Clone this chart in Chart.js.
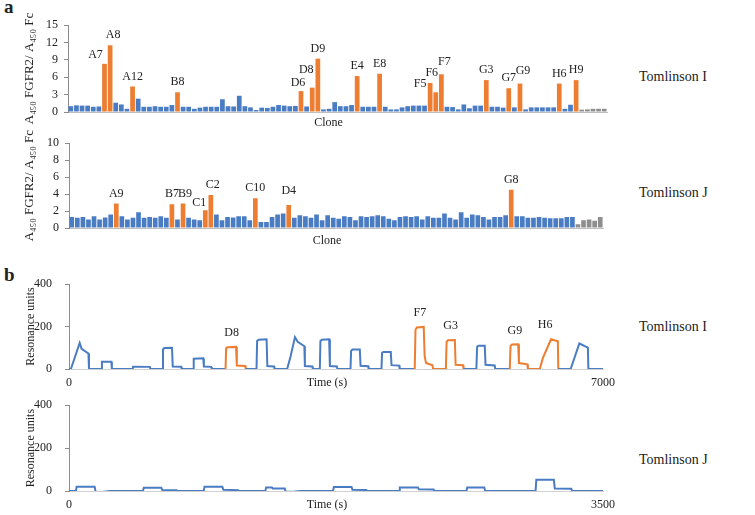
<!DOCTYPE html>
<html lang="en">
<head>
<meta charset="UTF-8">
<title>Tomlinson I / J clones</title>
<script src="https://cdn.jsdelivr.net/npm/chart.js"></script>
<style>
  body { margin: 0; background: #fff; color: #222; }
  #wrap { position: relative; width: 755px; height: 515px; overflow: hidden; font-family: "Liberation Serif", "DejaVu Serif", serif; }
  canvas { position: absolute; }
  .panel { position: absolute; font-weight: bold; font-size: 19px; font-family: "Liberation Serif", serif; }
  .lib { position: absolute; font-size: 14px; white-space: nowrap; font-family: "Liberation Serif", serif; }
</style>
</head>
<body>
<div id="wrap">
  <div class="panel" style="left:4px;top:-4px">a</div>
  <div class="panel" style="left:4px;top:264px">b</div>
  <div class="lib" style="left:639px;top:69px">Tomlinson I</div>
  <div class="lib" style="left:639px;top:185px">Tomlinson J</div>
  <div class="lib" style="left:639px;top:319px">Tomlinson I</div>
  <div class="lib" style="left:639px;top:452px">Tomlinson J</div>
  <canvas id="barI" width="625" height="140" style="left:0;top:0"></canvas>
  <canvas id="barJ" width="625" height="125" style="left:0;top:130px"></canvas>
  <canvas id="spr1" width="640" height="130" style="left:0;top:260px"></canvas>
  <canvas id="spr2" width="640" height="130" style="left:0;top:385px"></canvas>
</div>
<script>
// ---- data ----
const clones = [];
for (const r of 'ABCDEFGH') for (let c = 1; c <= 12; c++) clones.push(r + c);

// ELISA ratio, Tomlinson I library
const ratioI = [1.0, 1.15, 1.1, 1.1, 0.9, 0.95, 8.3, 11.5, 1.6, 1.3, 0.55, 4.4,
  2.3, 0.9, 0.9, 1.0, 0.9, 0.9, 1.2, 3.4, 0.9, 0.9, 0.55, 0.75,
  0.9, 0.9, 0.9, 2.2, 1.0, 0.95, 2.8, 1.0, 0.8, 0.35, 0.75, 0.7,
  0.9, 1.2, 1.1, 1.0, 1.05, 3.6, 0.95, 4.2, 9.2, 0.45, 0.55, 1.7,
  1.0, 1.0, 1.2, 6.2, 0.9, 0.9, 0.9, 6.6, 0.9, 0.45, 0.45, 0.8,
  1.0, 1.1, 1.1, 1.1, 5.0, 3.4, 6.5, 0.9, 0.85, 0.45, 1.3, 0.65,
  1.1, 1.1, 5.5, 0.9, 0.9, 0.75, 4.1, 0.8, 4.9, 0.45, 0.8, 0.8,
  0.8, 0.8, 0.8, 4.9, 0.55, 1.25, 5.5, 0.4, 0.45, 0.55, 0.55, 0.55];
const hitIdxI = [6, 7, 11, 19, 41, 43, 44, 51, 55, 64, 65, 66, 74, 78, 80, 87, 90];
const hitNameI = ['A7', 'A8', 'A12', 'B8', 'D6', 'D8', 'D9', 'E4', 'E8', 'F5', 'F6', 'F7', 'G3', 'G7', 'G9', 'H6', 'H9'];

// ELISA ratio, Tomlinson J library
const ratioJ = [1.3, 1.2, 1.3, 1.0, 1.4, 1.0, 1.25, 1.6, 2.9, 1.4, 1.0, 1.2,
  1.85, 1.2, 1.3, 1.2, 1.4, 1.2, 2.8, 1.0, 2.9, 1.2, 1.0, 0.9,
  2.1, 3.9, 1.6, 0.9, 1.3, 1.25, 1.4, 1.4, 0.9, 3.5, 0.7, 0.7,
  1.3, 1.6, 1.7, 2.7, 1.2, 1.5, 1.4, 1.2, 1.6, 0.9, 1.5, 1.2,
  1.1, 1.4, 1.3, 0.9, 1.4, 1.3, 1.4, 1.5, 1.4, 1.1, 0.9, 1.3,
  1.4, 1.3, 1.4, 1.0, 1.4, 1.2, 1.2, 1.7, 1.2, 1.0, 1.85, 1.2,
  1.6, 1.5, 1.3, 1.0, 1.3, 1.3, 1.5, 4.5, 1.4, 1.4, 1.2, 1.2,
  1.3, 1.2, 1.15, 1.15, 1.15, 1.3, 1.3, 0.45, 0.9, 1.0, 0.85, 1.3];
const hitIdxJ = [8, 18, 20, 24, 25, 33, 39, 79];
const hitNameJ = ['A9', 'B7', 'B9', 'C1', 'C2', 'C10', 'D4', 'G8'];

const controlIdx = [91, 92, 93, 94, 95];

// SPR sensorgram, Tomlinson I (time s, RU)
const timeI = [0, 25, 140, 165, 255, 262, 425, 432, 555, 562, 835, 840, 1060, 1066,
  1225, 1232, 1250, 1350, 1360, 1470, 1477, 1628, 1635, 1760, 1768, 1865, 1872,
  2052, 2060, 2080, 2190, 2200, 2310, 2316, 2458, 2466, 2486, 2590, 2600, 2688, 2694,
  2860, 2905, 2962, 2998, 3085, 3092, 3190, 3196, 3288, 3296, 3316, 3410, 3420, 3512, 3518,
  3690, 3698, 3716, 3812, 3822, 3922, 3928, 4096, 4104, 4120, 4218, 4228, 4328, 4334,
  4532, 4542, 4560, 4650, 4662, 4680, 4765, 4772, 4940, 4950, 4968, 5058, 5068, 5165, 5172,
  5340, 5350, 5366, 5450, 5460, 5580, 5588, 5778, 5788, 5806, 5888, 5898, 6008, 6015,
  6172, 6210, 6319, 6408, 6414, 6576, 6690, 6802, 6808, 7000];
const ruI = [0, 0, 123, 95, 73, 0, 0, 34, 34, 0, 0, 11, 10, 0,
  0, 92, 99, 100, 12, 11, 0, 0, 48, 50, 12, 10, 0,
  0, 98, 102, 104, 16, 14, 0, 0, 132, 138, 140, 14, 12, 0,
  0, 60, 150, 128, 107, 14, 12, 0, 0, 132, 138, 140, 14, 12, 0,
  0, 85, 92, 92, 15, 13, 0, 0, 76, 80, 80, 18, 16, 0,
  0, 185, 195, 198, 60, 28, 18, 0, 0, 128, 135, 136, 20, 18, 0,
  0, 105, 110, 110, 20, 17, 0, 0, 108, 115, 116, 28, 22, 0,
  0, 50, 140, 131, 0, 0, 120, 101, 0, 0];
// highlighted injections: [start, end, clone]
const hitRunI = [[2050, 2318, 'D8'], [4530, 4774, 'F7'], [4938, 5174, 'G3'], [5776, 6017, 'G9'], [6170, 6416, 'H6']];

// SPR sensorgram, Tomlinson J
const timeJ = [0, 45, 50, 168, 175, 200, 268, 485, 490, 605, 612, 705, 710,
  883, 888, 1005, 1012, 1108, 1114, 1287, 1292, 1330, 1335, 1414, 1420, 1480, 1520,
  1730, 1736, 1852, 1858, 1948, 1954, 2163, 2168, 2287, 2293, 2390, 2396,
  2605, 2610, 2722, 2728, 3058, 3063, 3178, 3184, 3292, 3298, 3500];
const ruJ = [0, 0, 20, 20, -5, -6, 0, 0, 15, 15, 4, 3, 0,
  0, 20, 20, 6, 4, 0, 0, 16, 16, 12, 12, -4, -2, 0,
  0, 19, 19, 6, 5, 0, 0, 16, 16, 8, 7, 0,
  0, 16, 16, 0, 0, 52, 52, 12, 11, 0, 0];

// ---- styles ----
const BLUE = '#4A7CC4';
const ORANGE = '#ED7D31';
const GREY = '#8E8E8E';
const FONT = 'Liberation Serif';
const labelNudge = {
  A7: [-9, 1], A8: [3, 0], D6: [-3, 2], D8: [-6, -8], F5: [-10, 11], F6: [-4, -9],
  F7: [3, -2], G9: [3, -3], B9: [2, 0], C1: [-6, 3], C2: [2, 0], D4: [0, -4]
};
// axis titles sit a little left of the axis middle in the original
const shiftLeft = '\u2002\u2002\u2002';

function barColors(hits) {
  return clones.map((c, i) => hits.includes(i) ? ORANGE : controlIdx.includes(i) ? GREY : BLUE);
}

function hitLabelPlugin(idx, names) {
  return {
    id: 'hitLabels',
    afterDatasetsDraw(chart) {
      const meta = chart.getDatasetMeta(0);
      const ctx = chart.ctx;
      ctx.save();
      ctx.font = '12px "' + FONT + '"';
      ctx.fillStyle = '#222';
      ctx.textAlign = 'center';
      ctx.textBaseline = 'middle';
      idx.forEach((i, k) => {
        const bar = meta.data[i];
        const n = labelNudge[names[k]] || [0, 0];
        ctx.fillText(names[k], bar.x + n[0], bar.y - 10 + n[1]);
      });
      ctx.restore();
    }
  };
}

function runLabelPlugin(runs, times, vals) {
  return {
    id: 'runLabels',
    afterDatasetsDraw(chart) {
      const xs = chart.scales.x, ys = chart.scales.y, ctx = chart.ctx;
      ctx.save();
      ctx.font = '12px "' + FONT + '"';
      ctx.fillStyle = '#222';
      ctx.textAlign = 'center';
      ctx.textBaseline = 'middle';
      runs.forEach(r => {
        let peak = 0;
        times.forEach((t, i) => { if (t >= r[0] && t <= r[1]) peak = Math.max(peak, vals[i]); });
        ctx.fillText(r[2], xs.getPixelForValue((r[0] + r[1]) / 2) - 4, ys.getPixelForValue(peak) - 14);
      });
      ctx.restore();
    }
  };
}

const yTitleBar = 'A\u2084\u2085\u2080 FGFR2/ A\u2084\u2085\u2080 Fc';

function barChart(id, values, hits, names, yMax, step, pad, yW, xH, titlePadB) {
  new Chart(document.getElementById(id), {
    type: 'bar',
    data: {
      labels: clones,
      datasets: [{ data: values, backgroundColor: barColors(hits), barPercentage: 0.84, categoryPercentage: 1 }]
    },
    options: {
      responsive: false,
      animation: false,
      layout: { padding: pad },
      plugins: { legend: { display: false }, tooltip: { enabled: false } },
      scales: {
        x: {
          grid: { display: false, drawTicks: false },
          border: { color: '#BFBFBF' },
          ticks: { display: false },
          title: { display: true, text: 'Clone' + shiftLeft, color: '#222', font: { family: FONT, size: 12 }, padding: { top: 0, bottom: titlePadB } },
          afterFit: s => { s.height = xH; }
        },
        y: {
          min: 0, max: yMax,
          grid: { drawOnChartArea: false, tickLength: 4, color: '#8C8C8C' },
          border: { color: '#8C8C8C' },
          ticks: { stepSize: step, autoSkip: false, padding: 6, color: '#222', font: { family: FONT, size: 12 } },
          title: { display: true, text: yTitleBar, color: '#222', font: { family: FONT, size: 13 }, padding: { top: 22, bottom: 0 } },
          afterFit: s => { s.width = yW; }
        }
      }
    },
    plugins: [hitLabelPlugin(hits, names)]
  });
}

function sprChart(id, times, vals, runs, xMax, pad, xH, tickPad, titlePadB) {
  const inRun = t => runs.some(r => t >= r[0] && t <= r[1]);
  new Chart(document.getElementById(id), {
    type: 'scatter',
    data: {
      datasets: [{
        data: times.map((t, i) => ({ x: t, y: vals[i] })),
        showLine: true,
        borderColor: BLUE,
        borderWidth: 2,
        pointRadius: 0,
        tension: 0,
        segment: { borderColor: c => inRun(c.p0.parsed.x) && inRun(c.p1.parsed.x) ? ORANGE : BLUE }
      }]
    },
    options: {
      responsive: false,
      animation: false,
      layout: { padding: pad },
      plugins: { legend: { display: false }, tooltip: { enabled: false } },
      scales: {
        x: {
          type: 'linear', min: 0, max: xMax,
          grid: { display: false, drawTicks: false },
          border: { color: '#D0D0D0' },
          ticks: { stepSize: xMax, padding: tickPad, color: '#222', font: { family: FONT, size: 12 }, callback: v => String(v) },
          title: { display: true, text: 'Time (s)' + shiftLeft, color: '#222', font: { family: FONT, size: 12 }, padding: { top: 0, bottom: titlePadB } },
          afterFit: s => { s.height = xH; }
        },
        y: {
          min: 0, max: 400,
          grid: { drawOnChartArea: false, tickLength: 4, color: '#8C8C8C' },
          border: { color: '#8C8C8C' },
          ticks: { stepSize: 200, autoSkip: false, padding: 13, color: '#222', font: { family: FONT, size: 12 } },
          title: { display: true, text: 'Resonance units', color: '#222', font: { family: FONT, size: 12 }, padding: { top: 24, bottom: 0 } },
          afterFit: s => { s.width = 69; }
        }
      }
    },
    plugins: runs.length ? [runLabelPlugin(runs, times, vals)] : []
  });
}

barChart('barI', ratioI, hitIdxI, hitNameI, 15, 3, { top: 25, right: 18, left: 0, bottom: 0 }, 68, 28, 10);
barChart('barJ', ratioJ, hitIdxJ, hitNameJ, 10, 2, { top: 13, right: 22, left: 0, bottom: 0 }, 69, 27, 7);
sprChart('spr1', timeI, ruI, hitRunI, 7000, { top: 24, right: 37, left: 0, bottom: 0 }, 21, 7, 0);
sprChart('spr2', timeJ, ruJ, [], 3500, { top: 19, right: 37, left: 0, bottom: 0 }, 24, 7, 3);
</script>
</body>
</html>
